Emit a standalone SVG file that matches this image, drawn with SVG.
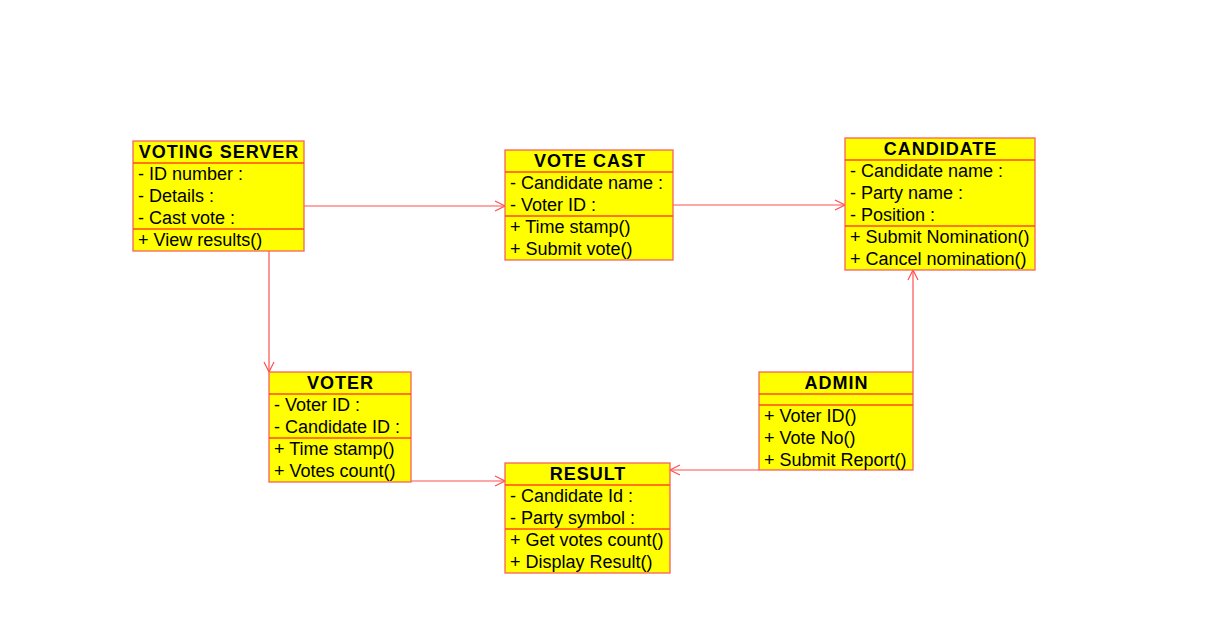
<svg xmlns="http://www.w3.org/2000/svg" width="1223" height="633" viewBox="0 0 1223 633">
<defs>
<style>
.box{fill:#ffff00;stroke:#f86060;stroke-width:1.3}
.sep{stroke:#ff4a1a;stroke-width:1.3}
.t{font-family:"Liberation Sans",Arial,sans-serif;font-size:18px;fill:#000}
.h{font-family:"Liberation Sans",Arial,sans-serif;font-size:18px;font-weight:bold;fill:#000;text-anchor:middle;letter-spacing:1px}
.c{fill:none;stroke:#ff5050;stroke-width:1.2}
</style>
<marker id="arr" viewBox="0 0 12 12" refX="11" refY="6" markerWidth="12" markerHeight="12" markerUnits="userSpaceOnUse" orient="auto">
<path d="M1,1 L11,6 L1,11" fill="none" stroke="#ff5050" stroke-width="1.2"/>
</marker>
</defs>
<rect width="1223" height="633" fill="#ffffff"/>
<g id="connectors">
<line class="c" x1="304" y1="206" x2="505" y2="206" marker-end="url(#arr)"/>
<line class="c" x1="673" y1="205" x2="845" y2="205" marker-end="url(#arr)"/>
<line class="c" x1="269" y1="251" x2="269" y2="372" marker-end="url(#arr)"/>
<line class="c" x1="411" y1="481" x2="505" y2="481" marker-end="url(#arr)"/>
<line class="c" x1="759" y1="470" x2="670" y2="470" marker-end="url(#arr)"/>
<line class="c" x1="913" y1="372" x2="913" y2="270" marker-end="url(#arr)"/>
</g>
<g id="voting-server">
<rect class="box" x="133" y="141" width="171" height="110"/>
<line class="sep" x1="133" y1="163" x2="304" y2="163"/>
<line class="sep" x1="133" y1="229" x2="304" y2="229"/>
<text class="h" x="219" y="158">VOTING SERVER</text>
<text class="t" x="138" y="180">- ID number :</text>
<text class="t" x="138" y="202">- Details :</text>
<text class="t" x="138" y="224">- Cast vote :</text>
<text class="t" x="138" y="246">+ View results()</text>
</g>
<g id="vote-cast">
<rect class="box" x="505" y="150" width="168" height="110"/>
<line class="sep" x1="505" y1="172" x2="673" y2="172"/>
<line class="sep" x1="505" y1="216" x2="673" y2="216"/>
<text class="h" x="590" y="167">VOTE CAST</text>
<text class="t" x="510" y="189">- Candidate name :</text>
<text class="t" x="510" y="211">- Voter ID :</text>
<text class="t" x="510" y="233">+ Time stamp()</text>
<text class="t" x="510" y="255">+ Submit vote()</text>
</g>
<g id="candidate">
<rect class="box" x="845" y="138" width="190" height="132"/>
<line class="sep" x1="845" y1="160" x2="1035" y2="160"/>
<line class="sep" x1="845" y1="226" x2="1035" y2="226"/>
<text class="h" x="940.5" y="155">CANDIDATE</text>
<text class="t" x="850" y="177">- Candidate name :</text>
<text class="t" x="850" y="199">- Party name :</text>
<text class="t" x="850" y="221">- Position :</text>
<text class="t" x="850" y="243">+ Submit Nomination()</text>
<text class="t" x="850" y="265">+ Cancel nomination()</text>
</g>
<g id="voter">
<rect class="box" x="269" y="372" width="142" height="110"/>
<line class="sep" x1="269" y1="394" x2="411" y2="394"/>
<line class="sep" x1="269" y1="438" x2="411" y2="438"/>
<text class="h" x="340.5" y="389">VOTER</text>
<text class="t" x="274" y="411">- Voter ID :</text>
<text class="t" x="274" y="433">- Candidate ID :</text>
<text class="t" x="274" y="455">+ Time stamp()</text>
<text class="t" x="274" y="477">+ Votes count()</text>
</g>
<g id="admin">
<rect class="box" x="759" y="372" width="154" height="98"/>
<line class="sep" x1="759" y1="394" x2="913" y2="394"/>
<line class="sep" x1="759" y1="405" x2="913" y2="405"/>
<text class="h" x="836.5" y="389">ADMIN</text>
<text class="t" x="764" y="422">+ Voter ID()</text>
<text class="t" x="764" y="444">+ Vote No()</text>
<text class="t" x="764" y="466">+ Submit Report()</text>
</g>
<g id="result">
<rect class="box" x="505" y="463" width="165" height="110"/>
<line class="sep" x1="505" y1="485" x2="670" y2="485"/>
<line class="sep" x1="505" y1="529" x2="670" y2="529"/>
<text class="h" x="588" y="480">RESULT</text>
<text class="t" x="510" y="502">- Candidate Id :</text>
<text class="t" x="510" y="524">- Party symbol :</text>
<text class="t" x="510" y="546">+ Get votes count()</text>
<text class="t" x="510" y="568">+ Display Result()</text>
</g>
</svg>
